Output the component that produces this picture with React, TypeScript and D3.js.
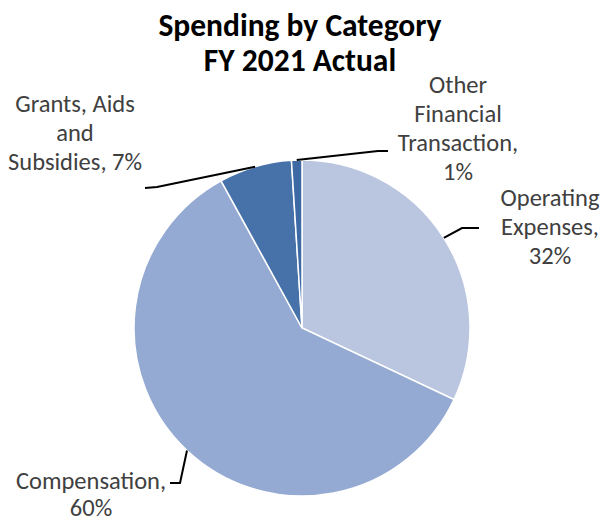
import React from 'react';
import * as d3 from 'd3';

const categories = ['Operating Expenses', 'Compensation', 'Grants, Aids and Subsidies', 'Other Financial Transaction'];
const values = [32, 60, 7, 1];
const labelLines = [
  ['Operating', 'Expenses,', '32%'],
  ['Compensation,', '60%'],
  ['Grants, Aids', 'and', 'Subsidies, 7%'],
  ['Other', 'Financial', 'Transaction,', '1%'],
];
const colors = ['#BAC6E0', '#95AAD2', '#4672A9', '#3D69A5'];
const titleLines = ['Spending by Category', 'FY 2021 Actual'];

const W = 603;
const H = 524;
const cx = 302;
const cy = 328;
const R = 168;
const FONT = "Carlito, Calibri, Lato, 'Open Sans', sans-serif";

// label layout: center x, first baseline y, line step, elbow point, end point
const layout = [
  { x: 550, y: 206, step: 29, elbow: [462, 228], end: [479, 228] },
  { x: 91, y: 489, step: 27, elbow: [180, 483], end: [170, 483] },
  { x: 75, y: 112, step: 29, elbow: [157, 187], end: [145, 188] },
  { x: 458, y: 93, step: 29, elbow: [378, 151], end: [388, 151] },
];

export default function App() {
  const pie = d3.pie<number>().sort(null).value((d) => d)(values);
  const arc = d3.arc<d3.PieArcDatum<number>>().innerRadius(0).outerRadius(R);
  return (
    <svg width={W} height={H} style={{ display: 'block', position: 'absolute', left: 0, top: 0 }}>
      <rect width={W} height={H} fill="#fff" />
      <g fontFamily={FONT} fontWeight="bold" fontSize={31.5} textAnchor="middle" fill="#000">
        {titleLines.map((t, i) => (
          <text key={i} x={300} y={36 + i * 35}>{t}</text>
        ))}
      </g>
      <g transform={`translate(${cx},${cy})`}>
        {pie.map((p, i) => (
          <path key={categories[i]} d={arc(p) || ''} fill={colors[i]} stroke="#fff" strokeWidth={1.5} />
        ))}
      </g>
      {pie.map((p, i) => {
        const mid = (p.startAngle + p.endAngle) / 2;
        const sx = cx + R * Math.sin(mid);
        const sy = cy - R * Math.cos(mid);
        const L = layout[i];
        return (
          <polyline
            key={'l' + i}
            points={`${sx},${sy} ${L.elbow[0]},${L.elbow[1]} ${L.end[0]},${L.end[1]}`}
            fill="none"
            stroke="#000"
            strokeWidth={2}
          />
        );
      })}
      <g fontFamily={FONT} fontSize={24.5} textAnchor="middle" fill="#404040">
        {labelLines.map((lines, i) => (
          <text key={'t' + i}>
            {lines.map((ln, j) => (
              <tspan key={j} x={layout[i].x} y={layout[i].y + j * layout[i].step}>{ln}</tspan>
            ))}
          </text>
        ))}
      </g>
    </svg>
  );
}
